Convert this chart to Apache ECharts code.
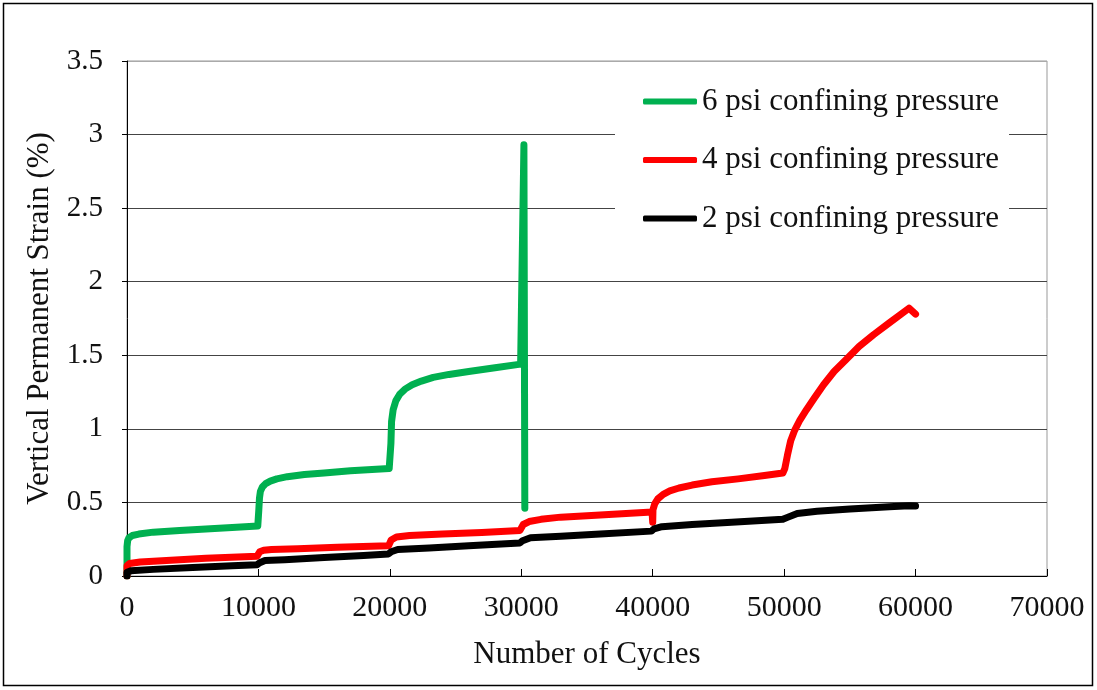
<!DOCTYPE html>
<html>
<head>
<meta charset="utf-8">
<script src="https://cdn.jsdelivr.net/npm/echarts@6/dist/echarts.min.js"></script>
<style>
html,body{margin:0;padding:0;background:#fff;}
#chart{width:1097px;height:690px;}
</style>
</head>
<body>
<div id="chart"></div>
<script>
// ---- Data ----
var seriesNames = ['6 psi confining pressure', '4 psi confining pressure', '2 psi confining pressure'];
var seriesColors = ['#00B050', '#FF0000', '#000000'];

var xTickValues = [0, 10000, 20000, 30000, 40000, 50000, 60000, 70000];
var yTickValues = [0, 0.5, 1, 1.5, 2, 2.5, 3, 3.5];

var green6psi = [
  [0,0],[0,0.2],[50,0.24],[150,0.26],[400,0.275],[900,0.285],[2000,0.298],[4000,0.31],[6000,0.32],[8000,0.33],[9950,0.34],
  [10000,0.34],[10030,0.45],[10080,0.53],[10150,0.575],[10300,0.605],[10550,0.628],[10900,0.645],[11400,0.66],[12200,0.675],[13500,0.69],[15000,0.70],[17000,0.715],[19950,0.73],
  [20050,0.73],[20080,0.9],[20130,1.05],[20250,1.13],[20450,1.19],[20750,1.235],[21150,1.27],[21700,1.30],[22400,1.325],[23300,1.35],[24500,1.37],[26000,1.39],[28000,1.415],[29950,1.44],
  [30200,2.93],[30270,0.46]
];

var red4psi = [
  [0,0],[0,0.07],[200,0.085],[1000,0.095],[3000,0.105],[6000,0.12],[9900,0.135],
  [10000,0.14],[10100,0.165],[10400,0.175],[11000,0.18],[13000,0.185],[16000,0.195],[19900,0.205],
  [20000,0.21],[20100,0.245],[20500,0.265],[21500,0.275],[24000,0.285],[27000,0.295],[29900,0.31],
  [30000,0.315],[30150,0.35],[30600,0.37],[31500,0.385],[33000,0.40],[36000,0.415],[39950,0.435],
  [40000,0.435],[40000,0.365],[40020,0.45],[40150,0.49],[40400,0.525],[40800,0.555],[41300,0.578],[42000,0.598],[43000,0.618],[44500,0.64],[46500,0.66],[48500,0.683],[49900,0.70],
  [50050,0.73],[50250,0.82],[50500,0.92],[50800,0.99],[51200,1.06],[51700,1.13],[52300,1.21],[53000,1.30],[53800,1.39],[54700,1.47],[55700,1.56],[56800,1.64],[58000,1.72],[59500,1.82],[60000,1.78]
];

var black2psi = [
  [0,0],[0,0.025],[300,0.035],[2000,0.045],[5000,0.058],[8000,0.07],[9900,0.077],
  [10100,0.09],[10500,0.105],[12000,0.11],[15000,0.125],[18000,0.14],[19900,0.15],
  [20100,0.165],[20600,0.18],[23000,0.19],[26000,0.205],[29900,0.225],
  [30100,0.24],[30700,0.26],[33000,0.27],[36000,0.285],[39900,0.305],
  [40100,0.32],[40700,0.335],[43000,0.35],[46000,0.365],[49900,0.385],
  [50300,0.4],[51000,0.425],[52500,0.44],[55000,0.455],[58000,0.47],[59500,0.478],[60000,0.475]
];

var xAxisTitle = 'Number of Cycles';
var yAxisTitle = 'Vertical Permanent Strain (%)';

// ---- Chart ----
var FONT = '"Liberation Serif", "Times New Roman", serif';
var chart = echarts.init(document.getElementById('chart'), null, {renderer: 'canvas'});

var allData = [green6psi, red4psi, black2psi];
var series = allData.map(function (d, i) {
  return {
    name: seriesNames[i],
    type: 'line',
    data: d,
    showSymbol: false,
    symbol: 'none',
    smooth: false,
    animation: false,
    lineStyle: {color: seriesColors[i], width: 7, cap: 'round', join: 'round'},
    itemStyle: {color: seriesColors[i]},
    z: 3 + i
  };
});

var option = {
  animation: false,
  backgroundColor: '#ffffff',
  grid: {
    left: 127, right: 50, top: 61, bottom: 114,
    show: true, borderColor: '#999', borderWidth: 1, backgroundColor: 'transparent'
  },
  graphic: [{
    type: 'rect',
    shape: {x: 3.5, y: 3.5, width: 1089, height: 682},
    style: {fill: 'none', stroke: '#000', lineWidth: 1.5},
    silent: true, z: 100
  }],
  legend: {
    orient: 'vertical',
    left: 615, top: 75,
    padding: [11, 10, 11, 28],
    backgroundColor: '#ffffff',
    icon: 'roundRect',
    itemWidth: 54, itemHeight: 6,
    itemGap: 27.5,
    itemTextGap: 1,
    data: seriesNames,
    textStyle: {fontFamily: FONT, fontSize: 31, color: '#111', lineHeight: 30},
    z: 10
  },
  xAxis: {
    type: 'value',
    min: xTickValues[0], max: xTickValues[xTickValues.length - 1], interval: 10000,
    name: xAxisTitle, nameLocation: 'middle', nameGap: 63,
    nameTextStyle: {fontFamily: FONT, fontSize: 31, color: '#111'},
    axisLine: {show: true, onZero: false, lineStyle: {color: '#000', width: 1}},
    axisTick: {show: true, inside: true, length: 7, lineStyle: {color: '#000'}},
    axisLabel: {fontFamily: FONT, fontSize: 30, color: '#111', margin: 17,
      formatter: function (v) { return String(v); }},
    splitLine: {show: false}
  },
  yAxis: {
    type: 'value',
    min: yTickValues[0], max: yTickValues[yTickValues.length - 1], interval: 0.5,
    name: yAxisTitle, nameLocation: 'middle', nameGap: 69,
    nameTextStyle: {fontFamily: FONT, fontSize: 31, color: '#111'},
    axisLine: {show: true, onZero: false, lineStyle: {color: '#000', width: 1}},
    axisTick: {show: true, inside: false, length: 5, lineStyle: {color: '#000'}},
    axisLabel: {fontFamily: FONT, fontSize: 29, color: '#111', margin: 24,
      formatter: function (v) { return String(v); }},
    splitLine: {show: true, lineStyle: {color: ['#444', '#444', '#444', '#444', '#444', '#444', '#444', '#aaa'], width: 1}}
  },
  series: series
};
chart.setOption(option);
</script>
</body>
</html>
